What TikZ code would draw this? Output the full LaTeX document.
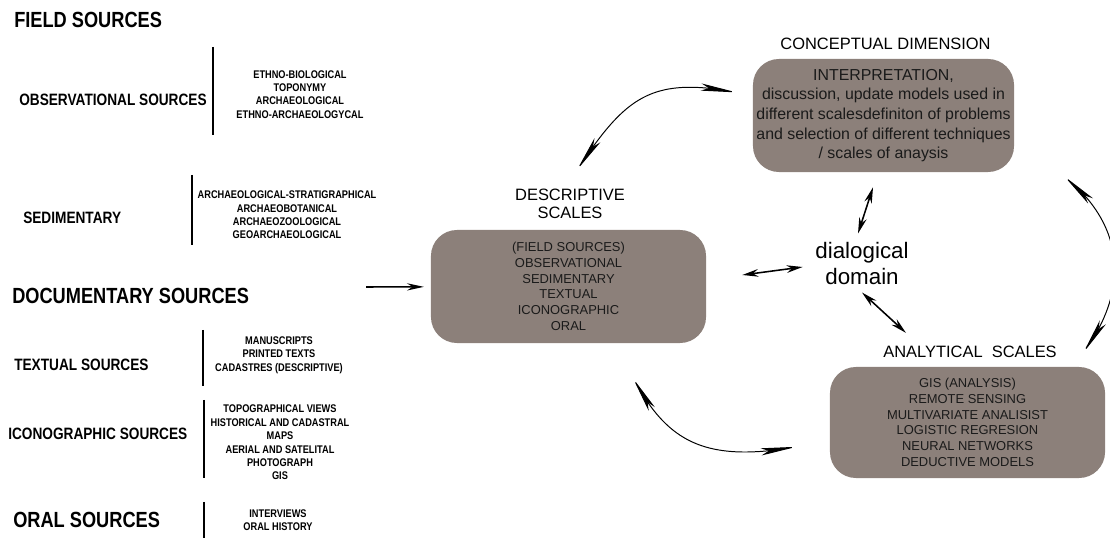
\documentclass[tikz,border=0pt]{standalone}
\usepackage{fontspec}
\setmainfont{Liberation Sans}
\newfontfamily\narrowfont[FakeStretch=0.83]{Liberation Sans}
\usetikzlibrary{arrows.meta,bending,positioning}
\definecolor{ink}{HTML}{1A1A1A}
\definecolor{cardfill}{HTML}{8C807A}
\tikzset{
  bighead/.style={anchor=west,inner sep=0pt,font=\narrowfont\bfseries\fontsize{15.6}{18}\selectfont},
  midhead/.style={anchor=west,inner sep=0pt,font=\narrowfont\bfseries\fontsize{11.7}{14}\selectfont},
  itemlist/.style={align=center,inner sep=0pt,font=\narrowfont\bfseries\fontsize{7.9}{9.5}\selectfont},
  scaletitle/.style={align=center,inner sep=0pt,font=\fontsize{11.7}{12.8}\selectfont},
  scalecard/.style={fill=cardfill,rounded corners=0.65cm,align=center,inner sep=0pt,text=ink,font=\fontsize{9.2}{11.2}\selectfont},
  sepline/.style={line width=1.4pt},
  flowarr/.style={-{Stealth[length=4.2mm,width=1.8mm]},line width=1.1pt},
  dblarr/.style={{Stealth[length=4mm,width=1.9mm]}-{Stealth[length=4mm,width=1.9mm]},line width=1.1pt},
  curvarr/.style={{Stealth[length=9mm,width=1.8mm,inset=2mm,flex]}-{Stealth[length=9mm,width=1.8mm,inset=2mm,flex]},line width=0.7pt}
}
\begin{document}
\begin{tikzpicture}[x=0.025cm,y=0.025cm]
  \useasboundingbox (0,0) rectangle (1110,538);

  % field sources
  \node[bighead] (fieldsrc) at (14,518) {FIELD SOURCES};
  \node[midhead] (obssrc) at (19,438) {OBSERVATIONAL SOURCES};
  \draw[sepline] (213,491) -- (213,403);
  \node[itemlist] (obslist) at (300,443.5) {ETHNO-BIOLOGICAL\\TOPONYMY\\ARCHAEOLOGICAL\\ETHNO-ARCHAEOLOGYCAL};
  \node[midhead] (sedsrc) at (23,320) {SEDIMENTARY};
  \draw[sepline] (192,363) -- (192,293);
  \node[itemlist] (sedlist) at (287,323) {ARCHAEOLOGICAL-STRATIGRAPHICAL\\ARCHAEOBOTANICAL\\ARCHAEOZOOLOGICAL\\GEOARCHAEOLOGICAL};

  % documentary sources
  \node[bighead] (docsrc) at (12,242) {DOCUMENTARY SOURCES};
  \node[midhead] (textsrc) at (14,173) {TEXTUAL SOURCES};
  \draw[sepline] (203,208) -- (203,152);
  \node[itemlist] (textlist) at (279,183) {MANUSCRIPTS\\PRINTED TEXTS\\CADASTRES (DESCRIPTIVE)};
  \node[midhead] (iconsrc) at (8,104) {ICONOGRAPHIC SOURCES};
  \draw[sepline] (204,138) -- (204,60);
  \node[itemlist] (iconlist) at (280,95.5) {TOPOGRAPHICAL VIEWS\\HISTORICAL AND CADASTRAL\\MAPS\\AERIAL AND SATELITAL\\PHOTOGRAPH\\GIS};
  \node[bighead] (oralsrc) at (13,18) {ORAL SOURCES};
  \draw[sepline] (204,36) -- (204,0);
  \node[itemlist] (orallist) at (278,18) {INTERVIEWS\\ORAL HISTORY};

  % scales
  \node[scaletitle] (desctitle) at (570,334) {DESCRIPTIVE\\SCALES};
  \node[scalecard,minimum width=6.875cm,minimum height=2.825cm] (desc) at (568.5,251.5)
    {(FIELD SOURCES)\\OBSERVATIONAL\\SEDIMENTARY\\TEXTUAL\\ICONOGRAPHIC\\ORAL};
  \node[scaletitle] (concepttitle) at (885.5,494) {CONCEPTUAL DIMENSION};
  \node[scalecard,minimum width=6.525cm,minimum height=2.825cm,font=\fontsize{11.3}{14}\selectfont] (concept) at (883.5,422.5)
    {INTERPRETATION,\\discussion, update models used in\\different scalesdefiniton of problems\\and selection of different techniques\\/ scales of anaysis};
  \node[align=center,inner sep=0pt,font=\fontsize{15.9}{17.8}\selectfont] (dialog) at (862,274.5) {dialogical\\domain};
  \node[scaletitle] (antitle) at (970,186) {ANALYTICAL\ \ SCALES};
  \node[scalecard,minimum width=6.875cm,minimum height=2.775cm] (anal) at (967.5,115.5)
    {GIS (ANALYSIS)\\REMOTE SENSING\\MULTIVARIATE ANALISIST\\LOGISTIC REGRESION\\NEURAL NETWORKS\\DEDUCTIVE MODELS};

  % connectors
  \coordinate (docout) at (366,251);
  \draw[flowarr,shorten >=0.17cm] (docout) -- (desc);
  \draw[dblarr] ([shift={(36,11.5)}]desc.east) -- ([shift={(-12.5,-3.5)}]dialog.west);
  \draw[dblarr] ([shift={(-4,9)}]dialog.north) -- ([shift={(-10.5,-15)}]concept.south);
  \draw[dblarr] ([shift={(0,-8)}]dialog.south) -- ([shift={(23,13)}]antitle.north west);
  \draw[curvarr] ([shift={(7,19)}]desctitle.north) .. controls (625,440) and (650,462) .. ([shift={(-16,0)}]concept.170);
  \draw[curvarr] ([shift={(64.5,-35)}]desc.south) .. controls (666,100) and (700,74) .. ([shift={(-33,0)}]anal.190);
  \begin{scope}
    \clip (0,0) rectangle (1110,538);
    \draw[curvarr] ([shift={(50,-4)}]concept.south east) .. controls (1125,313) and (1130,248) .. ([shift={(-22,14)}]anal.north east);
  \end{scope}
\end{tikzpicture}
\end{document}
